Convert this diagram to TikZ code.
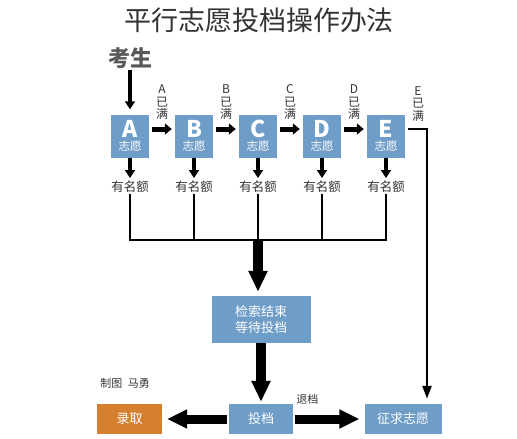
\documentclass[tikz,border=0pt]{standalone}
\usepackage{fontspec}
\setmainfont{Noto Sans CJK SC}
\usepackage{xcolor}
\usetikzlibrary{arrows.meta,positioning}
\definecolor{colorbox}{HTML}{6E9DC8}
\definecolor{coloradmit}{HTML}{D57F2F}
\definecolor{colortext}{HTML}{333333}
\definecolor{colorname}{HTML}{595959}
\tikzset{choice/.style={fill=colorbox, text=white, minimum width=38pt, minimum height=43pt, inner sep=0pt, align=center, font=\fontsize{11.5}{13}\selectfont}}
\tikzset{stage/.style={fill=colorbox, text=white, minimum height=30pt, inner sep=0pt, align=center, font=\fontsize{13}{16}\selectfont}}
\tikzset{quota/.style={inner sep=1pt, text=colortext, font=\fontsize{12.5}{13}\selectfont}}
\tikzset{full/.style={inner sep=0pt, text=colortext, align=center, font=\fontsize{12}{12.5}\selectfont}}
\tikzset{note/.style={inner sep=0pt, text=colortext, font=\fontsize{11}{12}\selectfont}}
\tikzset{
  arrnext/.style={black, line width=5pt, -{Triangle[width=11pt,length=7pt]}, shorten <=3pt, shorten >=3pt},
  arrdown/.style={black, line width=4pt, -{Triangle[width=10pt,length=8pt]}, shorten >=2pt},
  arrbig/.style={black, line width=10pt, -{Triangle[width=18pt,length=21pt]}, shorten >=4pt},
  arrside/.style={black, line width=9pt, -{Triangle[width=18pt,length=20pt]}, shorten <=2pt, shorten >=5pt},
  arrthin/.style={black, line width=2.5pt, -{Triangle[width=9pt,length=13pt]}, shorten <=3pt, shorten >=5pt},
  linkline/.style={black, line width=2.5pt}
}

\begin{document}
\begin{tikzpicture}[x=1pt, y=-1pt]
\useasboundingbox (0,0) rectangle (517,439);

\node[text=colortext, font=\fontsize{27}{27}\selectfont](title) at (259,20) {平行志愿投档操作办法};
\node[inner sep=1pt, text=colorname, font=\fontsize{22}{22}\selectfont\bfseries](student) at (130,58) {考生};

\foreach \n/\x in {A/130,B/194,C/258,D/322,E/386}{
  \node[choice](box\n) at (\x,136)
  {{\fontsize{23}{18}\selectfont\bfseries \n}\\志愿};
  \node[quota](quota\n) at (\x,187) {有名额};
  \draw[arrdown] (box\n.south) -- (quota\n.north);
}

\draw[arrdown, shorten >=5pt] (student.south) -- (boxA.north);

\foreach \a/\b in {A/B,B/C,C/D,D/E}{
  \draw[arrnext] ([yshift=7pt]box\a.east) --
  node[full, above=7pt](full\a){\a\\已\\满} ([yshift=7pt]box\b.west);
}
\node[full](fullE) at (418,104) {E\\已\\满};

\coordinate (join) at (258,240);
\draw[linkline] (quotaA.south) |- (quotaE.south |- join) -- (quotaE.south);
\draw[linkline] (quotaB.south) -- (quotaB.south |- join);
\draw[linkline] (quotaC.south) -- (quotaC.south |- join);
\draw[linkline] (quotaD.south) -- (quotaD.south |- join);

\node[stage, minimum width=99pt, minimum height=47pt](search) at (261,319.5)
{检索结束\\等待投档};
\node[stage, minimum width=64pt](submit) at (261,419) {投档};
\node[stage, fill=coloradmit, minimum width=65pt](admit) at (129.5,419) {录取};
\node[stage, minimum width=77pt](solicit) at (403,419) {征求志愿};

\draw[arrbig] (join) -- (join |- search.north);
\draw[arrbig, shorten >=2pt] (search.south) -- (submit.north);
\draw[arrside] (submit.west) -- (admit.east);
\draw[arrside] (submit.east) -- node[note, pos=0.2, above=10pt](back){退档} (solicit.west);
\draw[arrthin] ([yshift=7pt]boxE.east) -| ([xshift=24pt]solicit.north);

\node[note](credit) at (125,383) {制图\enspace 马勇};
\end{tikzpicture}
\end{document}
